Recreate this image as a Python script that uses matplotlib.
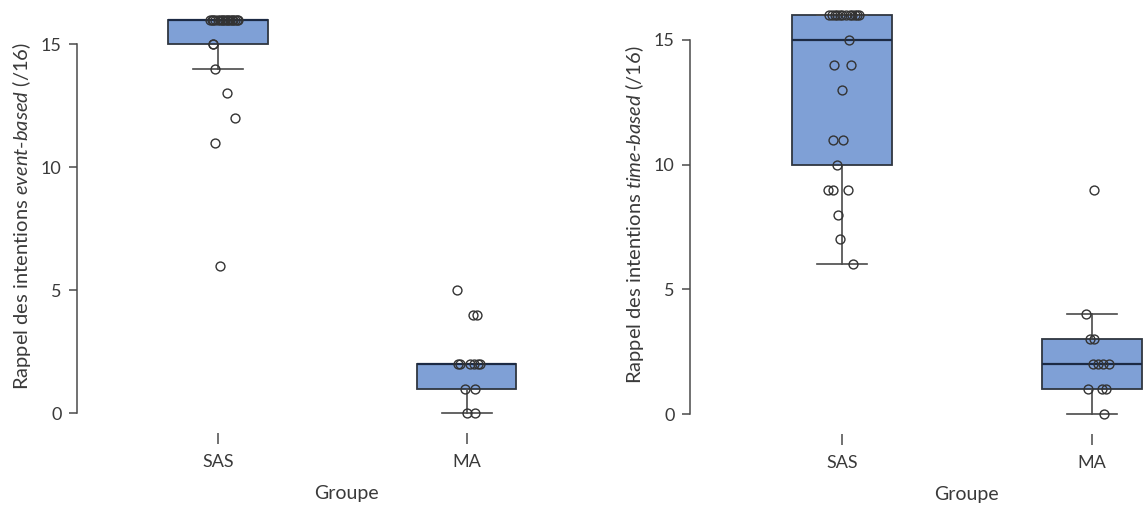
import matplotlib
matplotlib.use("Agg")
import matplotlib.pyplot as plt
import numpy as np

# ---------------- data ----------------
groups = ["SAS", "MA"]

# Panel 1: event-based recall (/16)
event_sas = [16]*17 + [15, 15, 14, 13, 12, 11, 6]
event_sas_jit = [-0.03, -0.02, -0.01, 0.0, 0.01, 0.02, 0.03, 0.04, 0.05, 0.06,
                 0.07, 0.08, -0.025, 0.015, 0.035, 0.055, 0.075,
                 -0.02, -0.02, -0.012, 0.036, 0.068, -0.012, 0.008]
event_ma = [5, 4, 4, 2, 2, 2, 2, 2, 2, 1, 1, 0, 0]
event_ma_jit = [-0.04, 0.024, 0.04, -0.036, -0.028, 0.012, 0.028, 0.044, 0.052,
                -0.008, 0.032, 0.0, 0.032]

# Panel 2: time-based recall (/16)
time_sas = [16]*12 + [15, 14, 14, 13, 11, 11, 10, 9, 9, 9, 8, 7, 6]
time_sas_jit = [-0.052, -0.04, -0.03, -0.02, -0.01, 0.0, 0.015, 0.03, 0.04,
                0.05, 0.06, 0.068,
                0.028, -0.032, 0.036, 0.0, -0.036, 0.004, -0.02, -0.056, -0.036,
                0.024, -0.016, -0.008, 0.044]
time_ma = [9, 4, 3, 3, 2, 2, 2, 2, 1, 1, 1, 0]
time_ma_jit = [0.008, -0.024, -0.008, 0.008, 0.004, 0.024, 0.044, 0.068,
               -0.016, 0.04, 0.056, 0.048]

yticks = [0, 5, 10, 15]
ylabels = ["Rappel des intentions $\\it{event\\text{-}based}$ (/16)",
           "Rappel des intentions $\\it{time\\text{-}based}$ (/16)"]
xlabel = "Groupe"

# ---------------- style ----------------
plt.rcParams['font.family'] = ['Lato', 'DejaVu Sans']
plt.rcParams['mathtext.fontset'] = 'custom'
plt.rcParams['mathtext.rm'] = 'Lato'
plt.rcParams['mathtext.it'] = 'Lato:italic'

box_fc = "#7fa0d6"
box_ec = "#2f3640"
med_c = "#1c2a44"
line_c = "#4a4a4a"
text_c = "#3a3a3a"
pt_ec = "#333333"

W, H = 1145, 512
fig = plt.figure(figsize=(W/100, H/100), dpi=100)

def px_axes(x0, x1, ytop, ybot):
    return fig.add_axes([x0/W, (H-ybot)/H, (x1-x0)/W, (ybot-ytop)/H])

ax1 = px_axes(77, 616, 0, 433)
ax2 = px_axes(690, 1242, -5, 434)

panels = [
    (ax1, [event_sas, event_ma], [event_sas_jit, event_ma_jit], (-0.566, 1.6), ylabels[0]),
    (ax2, [time_sas, time_ma], [time_sas_jit, time_ma_jit], (-0.608, 1.6), ylabels[1]),
]

for ax, vals, jits, xl, ylab in panels:
    pos = np.arange(len(groups))
    bp = ax.boxplot(vals, positions=pos, widths=0.4, patch_artist=True,
                    showfliers=False, whis=1.5, capwidths=0.2,
                    boxprops=dict(facecolor=box_fc, edgecolor=box_ec, linewidth=1.3),
                    medianprops=dict(color=med_c, linewidth=1.6),
                    whiskerprops=dict(color=line_c, linewidth=1.2),
                    capprops=dict(color=line_c, linewidth=1.2),
                    zorder=2)
    for i, (v, j) in enumerate(zip(vals, jits)):
        ax.plot(np.array(j) + pos[i], v, linestyle="none", marker="o",
                markersize=6.4, markerfacecolor="none", markeredgecolor=pt_ec,
                markeredgewidth=1.0, zorder=3, clip_on=False)
    ax.set_xlim(*xl)
    ax.set_ylim(-0.8, 16.8)
    ax.set_xticks(pos)
    ax.set_xticklabels(groups)
    ax.set_yticks(yticks)
    ax.set_yticklabels([str(t) for t in yticks])
    for s in ["top", "right", "bottom"]:
        ax.spines[s].set_visible(False)
    ax.spines["left"].set_bounds(0, 15)
    ax.spines["left"].set_color(line_c)
    ax.spines["left"].set_linewidth(1.1)
    ax.tick_params(axis="y", length=6, width=1.1, color=line_c, labelsize=13,
                   labelcolor=text_c, pad=5)
    ax.tick_params(axis="x", length=8, width=1.1, color=line_c, labelsize=13,
                   labelcolor=text_c, pad=7, direction="out")
    ax.set_ylabel(ylab, fontsize=14.5, color=text_c, labelpad=6)
    ax.set_xlabel(xlabel, fontsize=14, color=text_c, labelpad=11)
    ax.set_facecolor("none")

fig.savefig("out.png", dpi=100)
